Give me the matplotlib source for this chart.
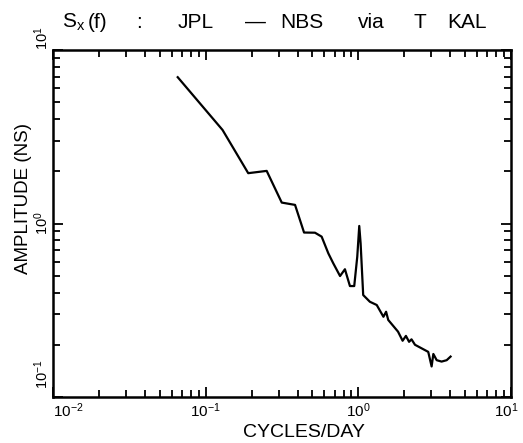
import matplotlib
matplotlib.use("Agg")
import matplotlib.pyplot as plt
import matplotlib.transforms as mtrans
from matplotlib.ticker import LogLocator, NullFormatter, FixedLocator

# spectre (cycles/jour, amplitude en ns)
freq = [0.0656, 0.129, 0.190, 0.251, 0.315, 0.385, 0.441, 0.520, 0.575,
        0.636, 0.685, 0.759, 0.817, 0.881, 0.940, 0.984, 1.014, 1.035,
        1.076, 1.19, 1.32, 1.46, 1.52, 1.57, 1.82, 1.95, 2.05, 2.15,
        2.23, 2.35, 2.87, 3.02, 3.10, 3.26, 3.51, 3.79, 4.02]
ampl = [6.97, 3.46, 1.95, 2.01, 1.32, 1.28, 0.887, 0.885, 0.840,
        0.673, 0.590, 0.498, 0.545, 0.436, 0.436, 0.644, 0.968, 0.769,
        0.387, 0.354, 0.339, 0.290, 0.310, 0.278, 0.238, 0.211, 0.225, 0.208,
        0.215, 0.200, 0.182, 0.150, 0.177, 0.163, 0.160, 0.163, 0.171]

x_ticks = [1e-2, 1e-1, 1e0, 1e1]
x_labels = ['$10^{-2}$', '$10^{-1}$', '$10^{0}$', '$10^{1}$']
y_ticks = [1e-1, 1e0, 1e1]
y_labels = ['$10^{-1}$', '$10^{0}$', '$10^{1}$']

# morceaux du titre, espacés comme sur l'original (x en pixels)
titre = [('S$_\\mathregular{x}$', 62), ('(f)', 88), (':', 136), ('JPL', 178),
         ('—', 245), ('NBS', 280), ('via', 358), ('T', 413), ('KAL', 447)]

plt.rcParams['font.family'] = ['Liberation Sans', 'DejaVu Sans']
plt.rcParams['mathtext.fontset'] = 'custom'
plt.rcParams['mathtext.rm'] = 'Liberation Sans'
plt.rcParams['mathtext.it'] = 'Liberation Sans'

W, H = 523, 443
fig = plt.figure(figsize=(W / 100, H / 100), dpi=100)
ax = fig.add_axes([53 / W, 1 - 397 / H, (511 - 53) / W, (397 - 50) / H])

ax.plot(freq, ampl, color='black', lw=1.6)
ax.set_xscale('log')
ax.set_yscale('log')
ax.set_xlim(1e-2, 1e1)
ax.set_ylim(1e-1, 1e1)

ax.xaxis.set_major_locator(FixedLocator(x_ticks))
ax.set_xticklabels(x_labels)
ax.yaxis.set_major_locator(FixedLocator(y_ticks))
ax.set_yticklabels(y_labels, rotation=90, va='center')
ax.xaxis.set_minor_locator(LogLocator(base=10, subs=range(2, 10)))
ax.yaxis.set_minor_locator(LogLocator(base=10, subs=range(2, 10)))
ax.xaxis.set_minor_formatter(NullFormatter())
ax.yaxis.set_minor_formatter(NullFormatter())

ax.tick_params(which='both', direction='in', top=True, right=True, width=1.3)
ax.tick_params(which='major', length=7)
ax.tick_params(which='minor', length=5)
ax.tick_params(axis='x', which='major', pad=3, labelsize=11)
ax.tick_params(axis='y', which='major', pad=1.5, labelsize=10.5)
for s in ax.spines.values():
    s.set_linewidth(1.8)

# étiquettes des extrémités décalées comme sur l'original
xl = ax.get_xticklabels()
xl[0].set_ha('left')
xl[-1].set_transform(xl[-1].get_transform() +
                     mtrans.ScaledTranslation(-0.05, 0, fig.dpi_scale_trans))
yl = ax.get_yticklabels()
yl[0].set_va('bottom')
yl[0].set_transform(yl[0].get_transform() +
                    mtrans.ScaledTranslation(0, 0.08, fig.dpi_scale_trans))
yl[-1].set_va('bottom')

fig.text(304 / W, 1 - 437 / H, 'CYCLES/DAY', fontsize=14,
         ha='center', va='baseline')
fig.text(24 / W, 1 - 199 / H, 'AMPLITUDE (NS)', fontsize=13.5,
         rotation=90, ha='center', va='center')
for mot, px in titre:
    fig.text(px / W, 1 - 28 / H, mot, fontsize=15, ha='left', va='baseline')

fig.savefig('out.png')
